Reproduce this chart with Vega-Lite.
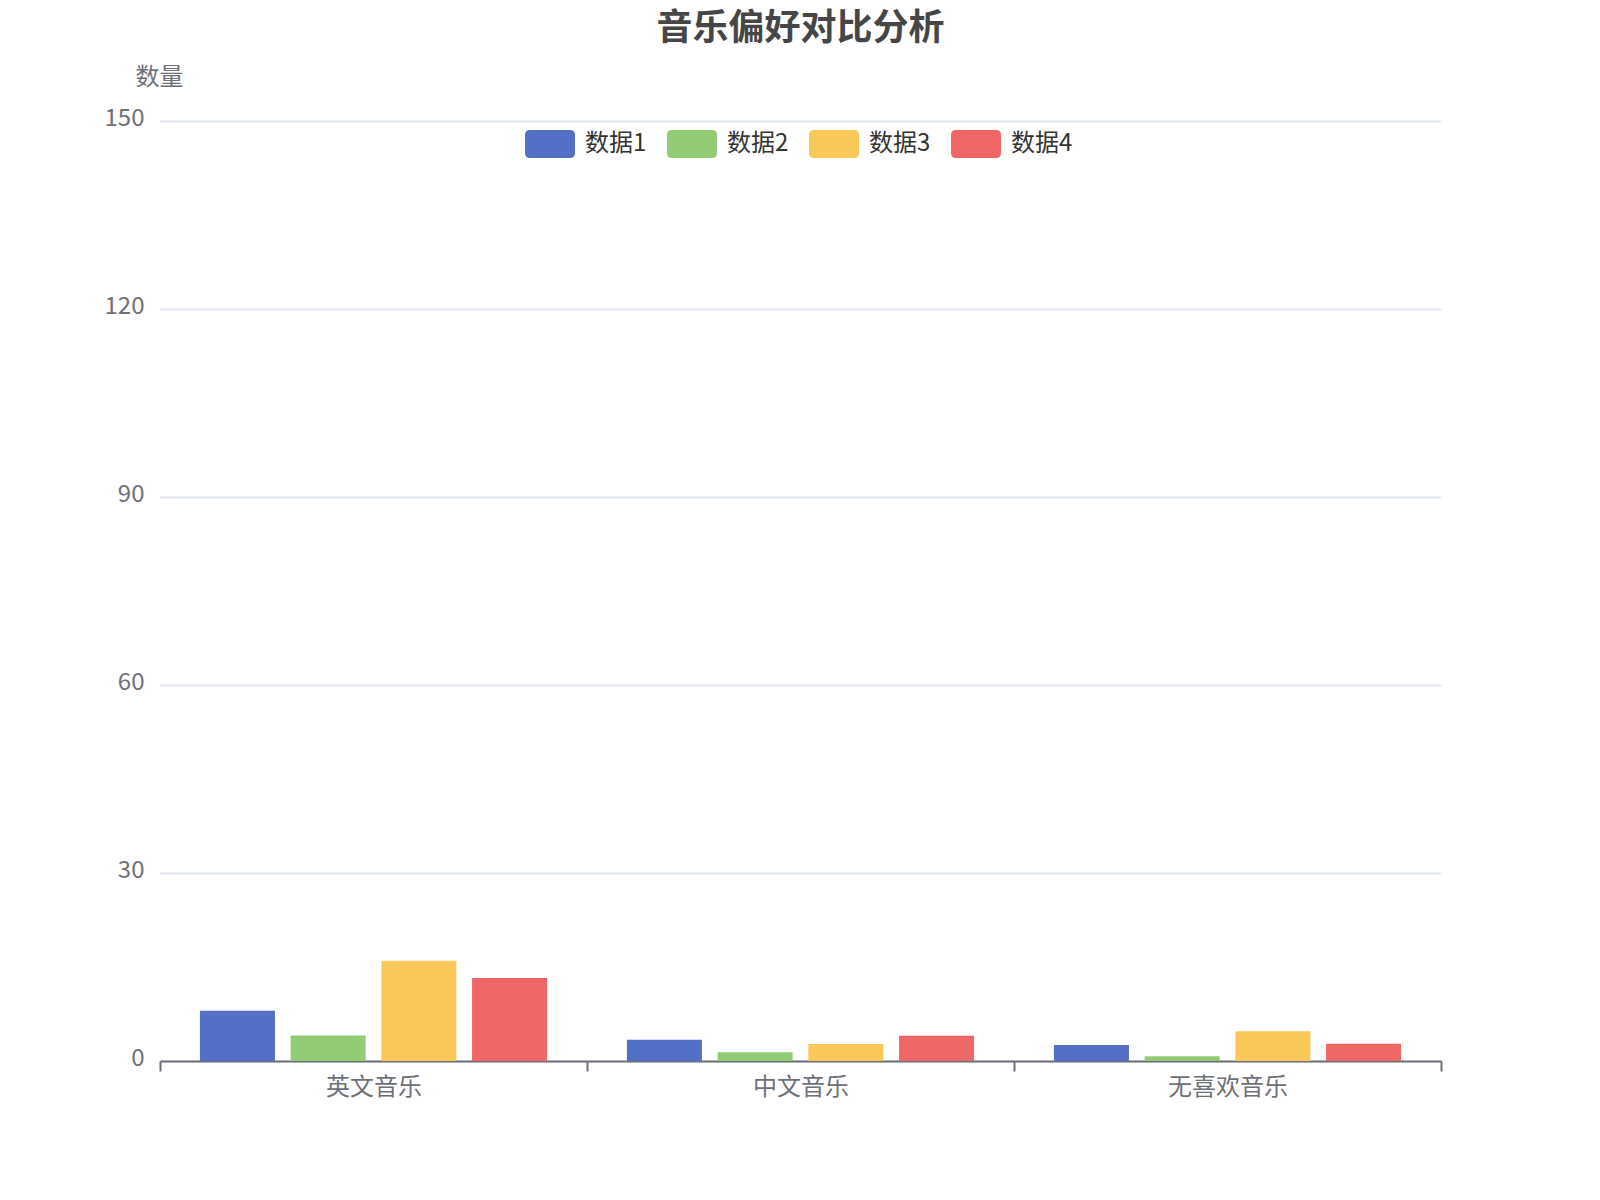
{
  "$schema": "https://vega.github.io/schema/vega-lite/v6.json",
  "width": 1281,
  "height": 940,
  "autosize": {"type": "none"},
  "padding": {"left": 160, "top": 121, "right": 159, "bottom": 139},
  "background": "white",
  "view": {"stroke": null},
  "title": {
    "text": "音乐偏好对比分析",
    "anchor": "middle",
    "frame": "group",
    "font": "Noto Sans CJK SC",
    "fontSize": 36,
    "fontWeight": "bold",
    "color": "#464646",
    "offset": 17
  },
  "data": {
    "values": [
      {"category": "英文音乐", "series": "数据1", "value": 8.0},
      {"category": "英文音乐", "series": "数据2", "value": 4.05},
      {"category": "英文音乐", "series": "数据3", "value": 16.0},
      {"category": "英文音乐", "series": "数据4", "value": 13.25},
      {"category": "中文音乐", "series": "数据1", "value": 3.4},
      {"category": "中文音乐", "series": "数据2", "value": 1.38},
      {"category": "中文音乐", "series": "数据3", "value": 2.71},
      {"category": "中文音乐", "series": "数据4", "value": 4.04},
      {"category": "无喜欢音乐", "series": "数据1", "value": 2.57},
      {"category": "无喜欢音乐", "series": "数据2", "value": 0.77},
      {"category": "无喜欢音乐", "series": "数据3", "value": 4.73},
      {"category": "无喜欢音乐", "series": "数据4", "value": 2.74}
    ]
  },
  "mark": {"type": "bar"},
  "encoding": {
    "x": {
      "field": "category",
      "type": "nominal",
      "sort": ["英文音乐", "中文音乐", "无喜欢音乐"],
      "scale": {"paddingInner": 0, "paddingOuter": 0},
      "axis": {
        "title": null,
        "labelAngle": 0,
        "labelFont": "Noto Sans CJK SC",
        "labelFontSize": 24,
        "labelColor": "#6E7079",
        "labelPadding": 4,
        "domainColor": "#6E7079",
        "domainWidth": 2,
        "tickColor": "#6E7079",
        "tickWidth": 2,
        "tickSize": 10,
        "tickBand": "extent",
        "grid": false
      }
    },
    "xOffset": {
      "field": "series",
      "type": "nominal",
      "scale": {"paddingInner": 0.173, "paddingOuter": 0.44}
    },
    "y": {
      "field": "value",
      "type": "quantitative",
      "scale": {"domain": [0, 150], "nice": false},
      "axis": {
        "title": "数量",
        "titleAngle": 0,
        "titleX": -1,
        "titleY": -44,
        "titleAlign": "center",
        "titleBaseline": "middle",
        "titleFont": "Noto Sans CJK SC",
        "titleFontSize": 24,
        "titleFontWeight": "normal",
        "titleColor": "#6E7079",
        "values": [0, 30, 60, 90, 120, 150],
        "labelFont": "Noto Sans CJK SC",
        "labelFontSize": 24,
        "labelColor": "#6E7079",
        "labelPadding": 16,
        "labelOffset": -3,
        "domain": false,
        "ticks": false,
        "grid": true,
        "gridColor": "#E0E6F1",
        "gridWidth": 2
      }
    },
    "color": {
      "field": "series",
      "type": "nominal",
      "scale": {
        "domain": ["数据1", "数据2", "数据3", "数据4"],
        "range": ["#5470c6", "#91cc75", "#fac858", "#ee6666"]
      },
      "legend": {
        "title": null,
        "orient": "none",
        "direction": "horizontal",
        "legendX": 365,
        "legendY": -2,
        "symbolType": "M-0.8,-0.56 L0.8,-0.56 Q1,-0.56 1,-0.36 L1,0.36 Q1,0.56 0.8,0.56 L-0.8,0.56 Q-1,0.56 -1,0.36 L-1,-0.36 Q-1,-0.56 -0.8,-0.56 Z",
        "symbolSize": 2500,
        "symbolStrokeWidth": 0,
        "symbolOpacity": 1,
        "labelFont": "Noto Sans CJK SC",
        "labelFontSize": 24,
        "labelColor": "#333333",
        "labelOffset": 10,
        "columnPadding": 20
      }
    }
  }
}
